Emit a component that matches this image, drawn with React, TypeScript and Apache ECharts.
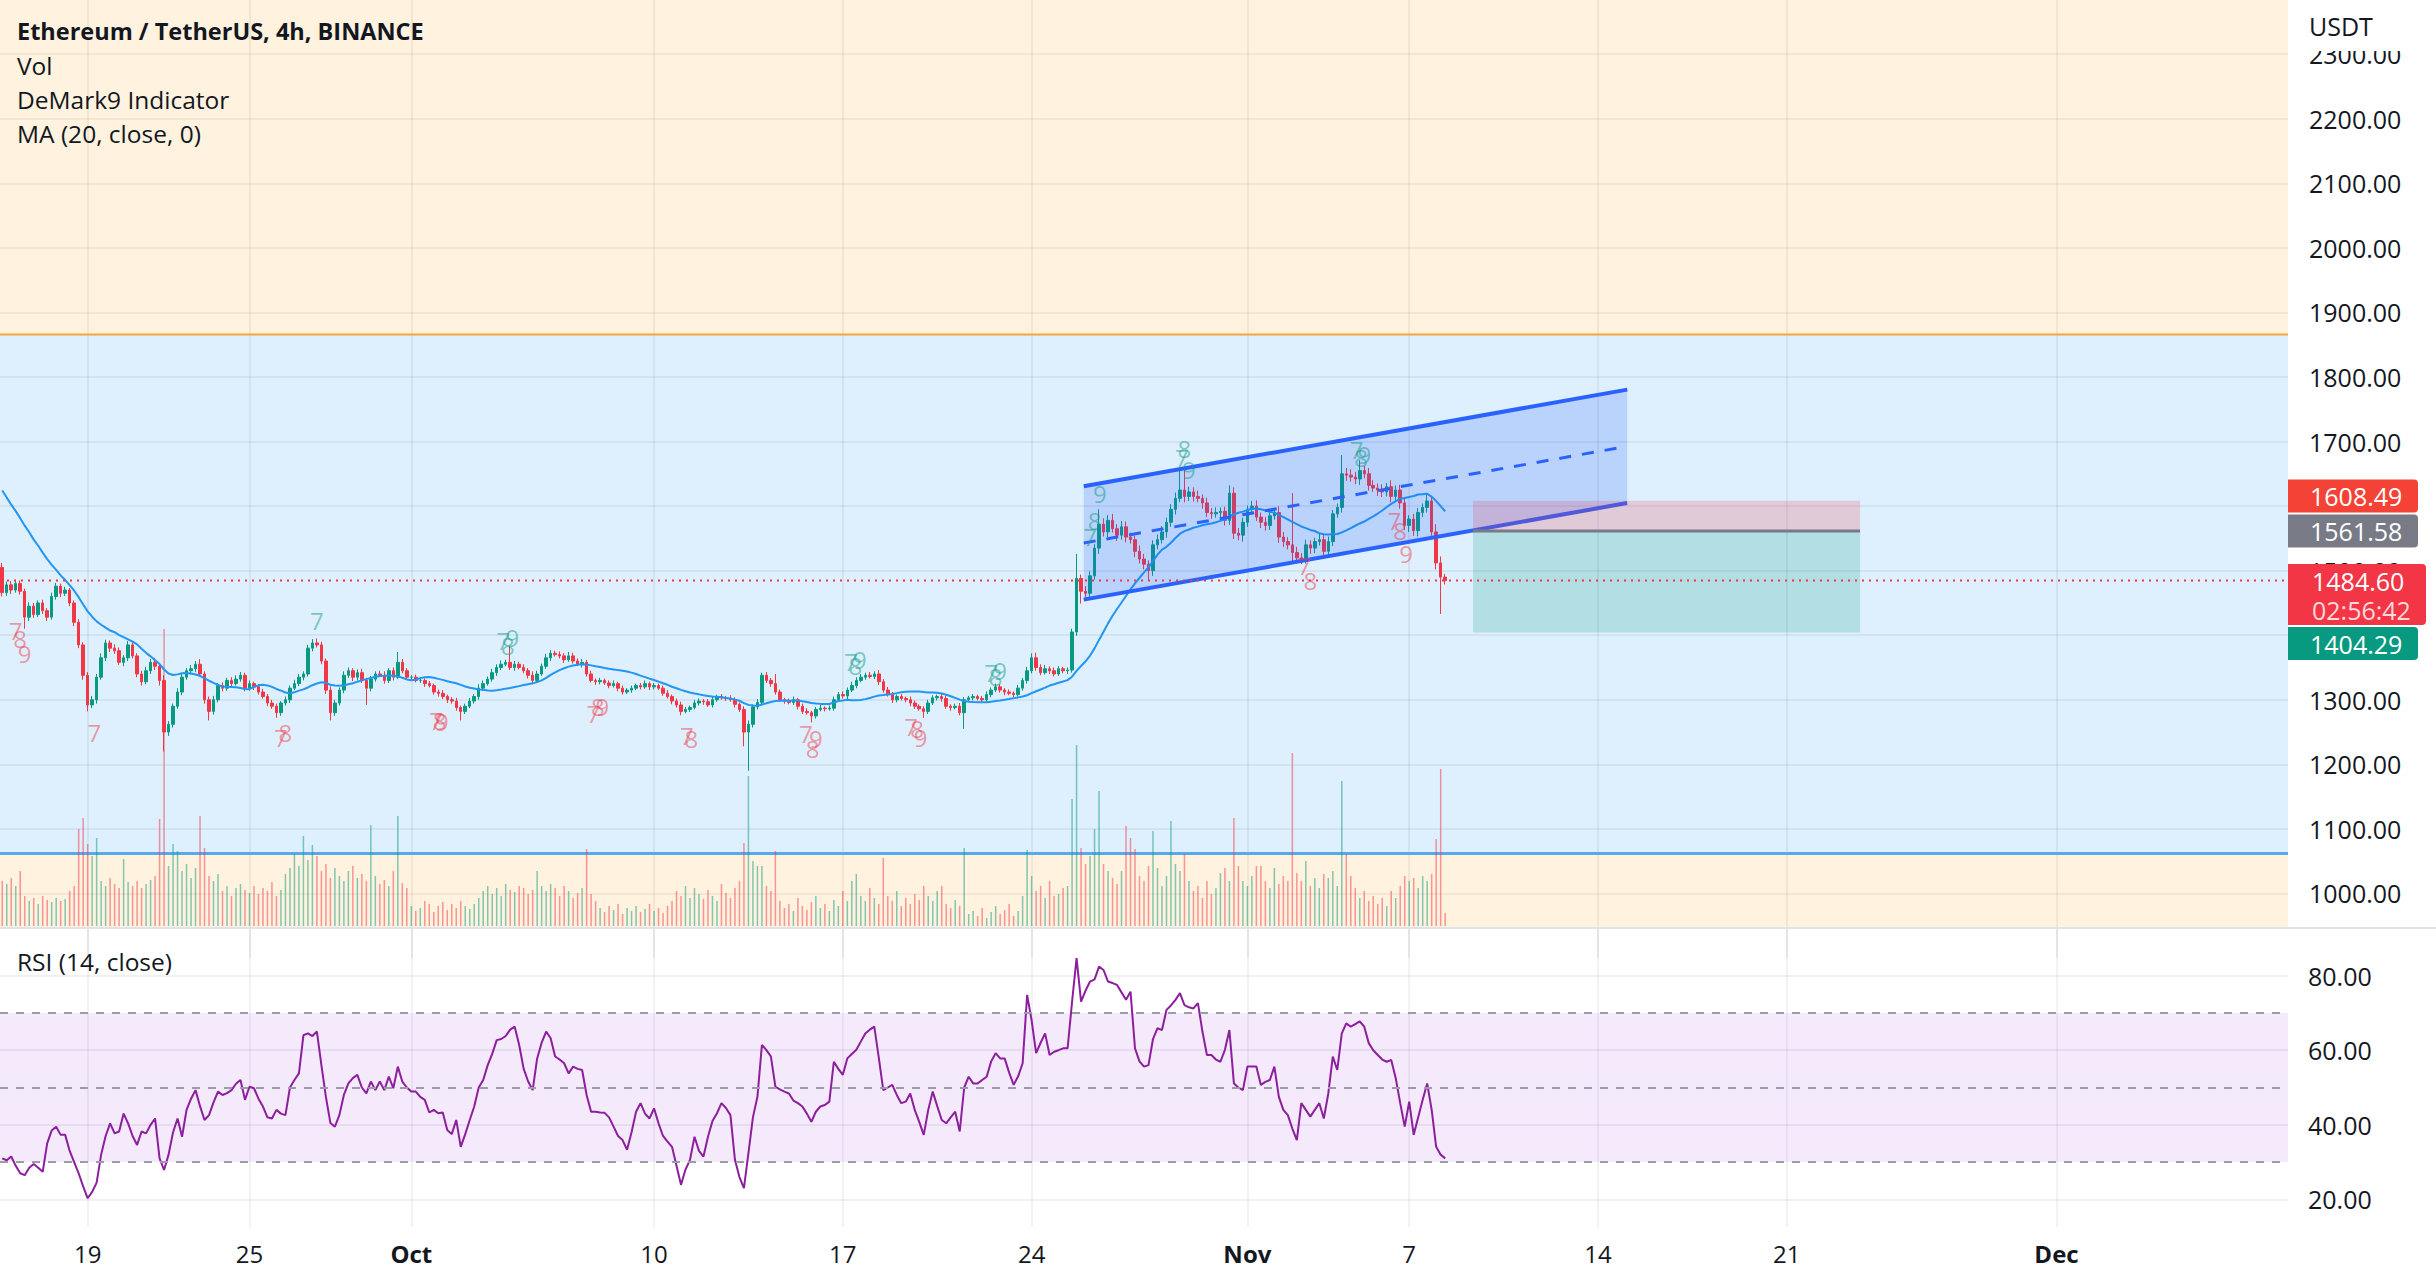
import React, { useEffect, useRef } from "react";
import * as echarts from "echarts";

// ---- Data (ETH/USDT 4h) ----
// closes before the first visible candle, used only to warm up MA(20)
const preCloses = [1700, 1690, 1680, 1685, 1660, 1650, 1660, 1640, 1650, 1630, 1640, 1630, 1635, 1615, 1605, 1595, 1585, 1565, 1505];

const closes = [
  1466, 1478, 1470, 1480, 1468, 1428, 1445, 1432, 1450, 1438,
  1428, 1460, 1476, 1465, 1470, 1450, 1420, 1385, 1338, 1292,
  1300, 1335, 1365, 1388, 1380, 1376, 1358, 1365, 1385, 1368,
  1340, 1328, 1345, 1358, 1352, 1330, 1250, 1262, 1290, 1312,
  1335, 1345, 1348, 1355, 1340, 1300, 1282, 1300, 1322, 1318,
  1330, 1325, 1332, 1338, 1318, 1325, 1320, 1312, 1305, 1295,
  1290, 1280, 1295, 1300, 1318, 1325, 1335, 1340, 1380, 1388,
  1385, 1360, 1315, 1280, 1295, 1315, 1338, 1345, 1335, 1342,
  1330, 1318, 1332, 1340, 1338, 1330, 1345, 1335, 1358, 1345,
  1335, 1335, 1330, 1330, 1325, 1322, 1312, 1310, 1305, 1300,
  1298, 1288, 1282, 1290, 1298, 1305, 1318, 1325, 1332, 1342,
  1350, 1355, 1358, 1350, 1355, 1350, 1345, 1338, 1330, 1340,
  1352, 1365, 1372, 1370, 1368, 1362, 1368, 1360, 1355, 1358,
  1340, 1330, 1328, 1330, 1326, 1322, 1325, 1318, 1312, 1315,
  1318, 1322, 1320, 1325, 1320, 1322, 1318, 1310, 1305, 1298,
  1292, 1282, 1285, 1288, 1295, 1298, 1297, 1292, 1300, 1305,
  1303, 1302, 1300, 1293, 1285, 1250, 1262, 1289, 1296, 1338,
  1330, 1325, 1312, 1300, 1298, 1296, 1300, 1290, 1282, 1280,
  1275, 1285, 1287, 1286, 1287, 1300, 1308, 1306, 1315, 1322,
  1330, 1335, 1338, 1336, 1340, 1328, 1315, 1308, 1300, 1305,
  1302, 1300, 1295, 1290, 1286, 1282, 1295, 1303, 1305, 1302,
  1290, 1288, 1290, 1280, 1300, 1303, 1305, 1302, 1300, 1308,
  1315, 1320, 1315, 1312, 1310, 1308, 1318, 1330, 1345, 1365,
  1350, 1342, 1348, 1345, 1340, 1348, 1345, 1346, 1405, 1488,
  1468, 1465, 1492, 1535, 1572, 1560, 1578, 1565, 1555, 1568,
  1552, 1548, 1530, 1518, 1510, 1500, 1540, 1548, 1560, 1575,
  1595, 1612, 1625, 1615, 1622, 1615, 1612, 1605, 1590, 1588,
  1590, 1592, 1578, 1620, 1558, 1555, 1575, 1595, 1600, 1583,
  1575, 1570, 1585, 1590, 1552, 1545, 1540, 1528, 1520, 1518,
  1540, 1535, 1545, 1548, 1530, 1545, 1588, 1598, 1650, 1648,
  1645, 1642, 1655, 1650, 1632, 1628, 1625, 1622, 1630, 1615,
  1625, 1605, 1570, 1580, 1562, 1590, 1598, 1608, 1560, 1512,
  1490, 1484.6,
];

const wickUp = [
  7, 5, 6, 4, 5, 4, 6, 5, 4, 5, 4, 6, 5, 4, 5, 3, 4, 5, 4, 5,
  6, 5, 7, 5, 4, 6, 5, 4, 6, 5, 4, 5, 6, 5, 7, 4, 8, 5, 4, 6,
  5, 4, 6, 5, 8, 4, 5, 6, 4, 5, 4, 5, 6, 5, 4, 5, 3, 4, 5, 4,
  5, 4, 3, 5, 4, 6, 5, 4, 5, 6, 7, 5, 4, 6, 5, 4, 6, 5, 4, 5,
  6, 4, 5, 4, 5, 6, 4, 5, 16, 5, 4, 3, 4, 5, 3, 4, 3, 4, 5, 3,
  4, 5, 3, 4, 5, 4, 6, 5, 4, 6, 5, 6, 4, 24, 5, 4, 5, 4, 6, 5,
  4, 6, 5, 4, 5, 4, 6, 5, 4, 5, 4, 5, 3, 4, 3, 4, 5, 3, 4, 3,
  4, 3, 4, 5, 3, 4, 3, 4, 5, 3, 4, 5, 4, 3, 5, 4, 3, 4, 5, 3,
  4, 3, 5, 4, 3, 5, 6, 4, 5, 4, 5, 4, 15, 4, 3, 4, 5, 3, 4, 5,
  3, 4, 5, 3, 4, 5, 4, 5, 4, 6, 5, 5, 4, 5, 4, 6, 4, 5, 4, 3,
  4, 3, 5, 4, 3, 4, 5, 4, 3, 5, 4, 3, 4, 5, 4, 3, 4, 3, 4, 5,
  4, 5, 4, 3, 4, 3, 5, 4, 6, 7, 8, 5, 6, 4, 5, 4, 3, 4, 5, 38,
  6, 8, 7, 6, 23, 9, 8, 10, 7, 9, 8, 7, 6, 9, 8, 6, 7, 8, 9, 7,
  8, 9, 31, 36, 8, 7, 9, 6, 8, 7, 8, 6, 7, 12, 9, 8, 7, 6, 8, 9,
  7, 8, 9, 6, 10, 8, 7, 80, 9, 7, 8, 7, 6, 9, 7, 8, 6, 6, 29, 9,
  9, 8, 16, 7, 9, 8, 7, 9, 6, 10, 7, 8, 9, 6, 8, 7, 6, 9, 8, 12,
  10, 5,
];

const wickDown = [
  6, 5, 6, 4, 5, 18, 6, 5, 4, 5, 6, 4, 5, 6, 4, 5, 6, 5, 7, 10,
  5, 6, 4, 5, 6, 5, 4, 6, 5, 4, 5, 6, 4, 5, 6, 8, 30, 6, 5, 4,
  5, 4, 6, 5, 4, 6, 14, 5, 4, 5, 4, 5, 3, 4, 5, 4, 5, 4, 3, 5,
  4, 8, 5, 4, 5, 3, 4, 5, 4, 5, 4, 5, 6, 12, 5, 4, 5, 4, 6, 5,
  4, 26, 5, 4, 3, 5, 4, 5, 3, 4, 3, 4, 3, 4, 5, 3, 4, 5, 4, 5,
  4, 5, 14, 4, 3, 4, 5, 4, 3, 4, 5, 4, 3, 4, 5, 3, 4, 5, 6, 4,
  3, 4, 5, 3, 4, 5, 3, 4, 3, 5, 4, 3, 5, 4, 3, 4, 3, 5, 4, 3,
  4, 3, 4, 3, 5, 4, 3, 4, 3, 5, 4, 6, 3, 4, 3, 4, 5, 3, 4, 3,
  3, 4, 3, 5, 4, 22, 60, 5, 4, 5, 4, 5, 4, 3, 4, 3, 4, 5, 4, 3,
  10, 4, 3, 4, 3, 4, 3, 4, 5, 3, 4, 3, 4, 3, 4, 5, 4, 3, 5, 4,
  3, 4, 5, 4, 3, 10, 4, 3, 4, 5, 4, 5, 3, 4, 25, 3, 4, 3, 4, 3,
  4, 3, 4, 5, 3, 4, 3, 4, 5, 4, 5, 4, 3, 5, 4, 3, 4, 5, 4, 6,
  19, 7, 8, 6, 9, 7, 8, 6, 9, 7, 8, 6, 9, 7, 8, 15, 8, 7, 6, 9,
  7, 8, 6, 9, 7, 8, 6, 9, 7, 8, 6, 9, 8, 7, 9, 8, 10, 7, 8, 6,
  9, 8, 7, 6, 9, 8, 7, 17, 9, 8, 7, 9, 8, 6, 9, 8, 7, 6, 8, 9,
  7, 8, 9, 7, 8, 6, 9, 8, 7, 9, 8, 9, 7, 10, 8, 9, 7, 8, 6, 10,
  57, 6,
];

const volumes = [
  45, 42, 48, 40, 55, 30, 25, 28, 22, 30, 26, 24, 28, 25, 27, 35, 40, 97, 108, 82,
  70, 88, 45, 40, 48, 42, 38, 67, 44, 40, 45, 38, 42, 46, 50, 107, 297, 60, 82, 75,
  55, 62, 48, 58, 110, 78, 50, 45, 52, 35, 40, 30, 38, 42, 36, 33, 40, 32, 38, 35,
  44, 30, 36, 52, 58, 72, 60, 90, 66, 81, 70, 55, 62, 48, 58, 50, 45, 55, 60, 48,
  52, 45, 101, 50, 42, 46, 40, 55, 110, 43, 38, 20, 15, 18, 25, 22, 14, 20, 24, 16,
  22, 18, 25, 20, 17, 22, 28, 35, 40, 32, 38, 30, 42, 36, 34, 40, 38, 32, 36, 55,
  40, 35, 42, 38, 30, 40, 35, 28, 33, 38, 77, 32, 25, 18, 14, 20, 16, 22, 12, 18,
  15, 20, 14, 17, 22, 15, 18, 13, 20, 25, 35, 30, 40, 28, 38, 32, 27, 36, 30, 25,
  42, 33, 28, 38, 45, 83, 150, 65, 60, 60, 40, 35, 75, 25, 18, 22, 15, 28, 20, 16,
  24, 30, 18, 22, 15, 26, 20, 35, 25, 45, 52, 30, 25, 38, 28, 22, 68, 30, 25, 35,
  20, 28, 22, 32, 26, 40, 30, 25, 35, 40, 22, 18, 26, 20, 78, 12, 15, 10, 18, 8,
  14, 20, 12, 16, 22, 10, 15, 30, 76, 50, 35, 40, 28, 45, 30, 32, 38, 40, 127, 181,
  78, 62, 70, 97, 135, 62, 55, 48, 42, 55, 100, 88, 77, 50, 45, 60, 95, 58, 40, 50,
  105, 62, 55, 72, 45, 35, 40, 28, 45, 32, 38, 53, 58, 45, 108, 60, 45, 40, 50, 60,
  60, 45, 38, 58, 42, 50, 45, 173, 53, 45, 65, 40, 48, 38, 52, 48, 55, 40, 145, 72,
  50, 38, 28, 35, 25, 30, 22, 28, 20, 35, 28, 40, 50, 45, 48, 38, 50, 45, 52, 87,
  157, 13,
];

const rsiValues = [
  31, 30.5, 31.5, 29, 27, 26.5, 28.5, 29.5, 28.5, 27.4,
  35, 38.5, 39.5, 37.3, 37.3, 33, 30, 27, 23.5, 20.3,
  22, 24.5, 32, 37, 40.4, 37.7, 38.2, 43, 40.4, 37,
  34.6, 38.2, 37.7, 40, 41.7, 31, 27.9, 32, 38, 41.7,
  36.8, 44, 47, 49.3, 45, 41.3, 42.6, 46, 48.9, 48,
  48.5, 49.3, 51, 52, 46.7, 50.2, 49.8, 47, 44.9, 42,
  41.7, 44, 43, 42.6, 50, 52, 53.8, 64, 64.5, 63.8,
  65, 56, 47.5, 40.5, 39.5, 42.6, 48, 51.1, 52.5, 53.4,
  50, 48.4, 51.6, 49.3, 51.6, 49.3, 52.9, 49.8, 55.6, 51.6,
  50, 48.9, 48.9, 47.5, 46.7, 43.3, 44, 43.1, 43.3, 38.6,
  37.5, 41.3, 34.1, 37.5, 41.3, 44.9, 50, 52, 56, 59,
  62.7, 63, 63.8, 65.5, 66.3, 61.4, 55, 51.6, 49.3, 57.8,
  62, 65, 63.2, 58.3, 57.5, 56.5, 53.8, 55.6, 55, 54.7,
  48, 43.5, 43.5, 43.3, 43.2, 42, 39.5, 37, 35.9, 33.3,
  38, 43.5, 45.8, 43, 41.7, 44.4, 40.4, 37, 35.5, 34.1,
  29, 23.9, 28, 30.6, 36.8, 33, 31.5, 36.8, 41, 43.1,
  45.8, 44.5, 42.6, 30.6, 26, 23, 32.4, 42, 47.5, 61.4,
  60, 58.3, 50.2, 49.5, 48.9, 48.4, 46.5, 45.8, 44.9, 43,
  40.8, 43.5, 44.9, 45.3, 46.2, 56.9, 55, 53.4, 57.8, 59,
  60.1, 62.3, 64.5, 65.5, 66.3, 58, 49.3, 50, 50.7, 48,
  45.8, 46.2, 48.4, 44, 40.8, 37.3, 44, 48.9, 45, 41.3,
  40.4, 42, 43.5, 38.2, 50, 52.9, 51.1, 51.1, 52, 52.9,
  57, 59.2, 57.8, 57.8, 54, 50.7, 53, 56.5, 74.8, 68,
  59.2, 62, 64.5, 58.7, 59.6, 60, 60.5, 60.5, 73, 84.7,
  73, 76, 78.4, 79, 82.4, 81.5, 78.4, 78, 77.5, 75.5,
  73.5, 75.7, 60.5, 57, 55.6, 56, 63, 65.9, 65.4, 70.8,
  72, 73.5, 75.3, 72.1, 71.5, 71.2, 72.6, 65, 58.7, 58.7,
  57.5, 56.9, 60.1, 65.4, 51.1, 50, 49.3, 55.6, 55.6, 55.6,
  50.7, 51.5, 52, 55.6, 47.5, 44, 42.6, 39, 35.9, 45.8,
  44, 42.2, 44, 45.8, 41.7, 48.4, 58.3, 54.7, 64.5, 67.2,
  66.3, 67, 67.7, 66.3, 61.9, 60, 58.7, 57.5, 56.9, 57.4,
  52.5, 45.8, 39.5, 46.2, 37.3, 42, 46.7, 51.1, 44, 34.1,
  32, 31,
];

// time axis: one slot per 4h candle, slot 0 = Sep 15 20:00
const slotCount = 509;
const xTickIndex = [19, 55, 91, 145, 187, 229, 277, 313, 355, 397, 457];
const xTickLabels = ["19", "25", "Oct", "10", "17", "24", "Nov", "7", "14", "21", "Dec"];
const monthLabels = ["Oct", "Nov", "Dec"];

// price scale
const priceMin = 900;
const priceMax = 2384;
const paneBottomPrice = 946;
// axis labels fully hidden behind the price tags in the picture
const hiddenPriceLabels = [1400, 1600];

// drawings
const zoneUpperLevel = 1866;
const zoneLowerLevel = 1062;
const channelUpper = [[240.6, 1630.7], [361.5, 1780.4]];
const channelLower = [[240.6, 1455.1], [361.5, 1604.8]];
const positionStart = 327.2;
const positionEnd = 413.3;
const stopPrice = 1608.49;
const entryPrice = 1561.58;
const targetPrice = 1404.29;
const lastPrice = 1484.6;
const countdownText = "02:56:42";

// DeMark 9 counts: [slot, price, text]
const demarkUp = [
  [70, 1423, "7"],
  [111.5, 1392, "7"], [112.5, 1384, "8"], [113.5, 1396, "9"],
  [188.8, 1360, "7"], [189.8, 1353, "8"], [190.8, 1362, "9"],
  [220, 1343, "7"], [221, 1336, "8"], [222, 1345, "9"],
  [242, 1553, "7"], [243, 1578, "8"], [244.2, 1619, "9"],
  [262.4, 1676, "7"], [263, 1690, "8"], [264, 1656, "9"],
  [301.3, 1688, "7"], [302.3, 1676, "8"], [303, 1680, "9"],
];
const demarkDown = [
  [3, 1408, "7"], [4, 1395, "8"], [5, 1371, "9"],
  [20.5, 1250, "7"],
  [62, 1242, "7"], [63, 1250, "8"],
  [96.5, 1268, "7"], [97.3, 1268, "8"], [97.8, 1266, "9"],
  [131.5, 1278, "7"], [132.5, 1290, "8"], [133.5, 1290, "9"],
  [152.3, 1245, "7"], [153.3, 1240, "8"],
  [178.8, 1247, "7"], [180.3, 1224, "8"], [181, 1240, "9"],
  [202.2, 1258, "7"], [203.5, 1255, "8"], [204.3, 1242, "9"],
  [289.7, 1508, "7"], [291, 1485, "8"],
  [309.7, 1578, "7"], [311, 1562, "8"], [312.3, 1526, "9"],
];

// ---- Styles ----
const FONT = "Open Sans";
const TEXT = "#131722";
const UP = "#089981";
const DOWN = "#f23645";
const GRID_LINE = "rgba(42,46,57,0.07)";
const AXIS_FONT = 25;

export default function App() {
  const ref = useRef<HTMLDivElement>(null);

  useEffect(() => {
    const el = ref.current as HTMLDivElement;
    const chart = echarts.init(el, null, { renderer: "svg" });

    const allCloses = preCloses.concat(closes);
    const off = preCloses.length;
    const opens = closes.map((_, i) => allCloses[i + off - 1]);
    const candles = closes.map((c, i) => {
      const o = opens[i];
      return [o, c, Math.min(o, c) - wickDown[i], Math.max(o, c) + wickUp[i]];
    });
    const ma = closes.map((_, i) => {
      let s = 0;
      for (let k = i + off - 19; k <= i + off; k++) s += allCloses[k];
      return +(s / 20).toFixed(2);
    });
    const volData = volumes.map((v, i) => ({
      value: v,
      itemStyle: { color: closes[i] >= opens[i] ? "rgba(8,153,129,0.5)" : "rgba(242,54,69,0.5)" },
    }));
    const categories = Array.from({ length: slotCount }, (_, i) => String(i));
    const tickSet = new Set(xTickIndex);
    const isTick = (i: number) => tickSet.has(i);
    const labelOf = (i: number) => {
      const k = xTickIndex.indexOf(i);
      if (k < 0) return "";
      const t = xTickLabels[k];
      return monthLabels.indexOf(t) >= 0 ? "{b|" + t + "}" : "{n|" + t + "}";
    };

    const priceGridColors: string[] = [];
    for (let v = priceMin; v <= priceMax; v += 100) priceGridColors.push(v < 1000 ? "rgba(0,0,0,0)" : GRID_LINE);
    priceGridColors.push("rgba(0,0,0,0)");
    const rsiGridColors = ["rgba(0,0,0,0)", GRID_LINE, GRID_LINE, GRID_LINE, GRID_LINE, "rgba(0,0,0,0)"];

    const renderZones = (params: any, api: any) => {
      const cs = params.coordSys;
      const yUp = api.coord([0, zoneUpperLevel])[1];
      const yLow = api.coord([0, zoneLowerLevel])[1];
      const yBot = api.coord([0, paneBottomPrice])[1];
      return {
        type: "group",
        children: [
          { type: "rect", shape: { x: cs.x, y: cs.y, width: cs.width, height: yUp - cs.y }, style: { fill: "rgba(255,152,0,0.13)" } },
          { type: "rect", shape: { x: cs.x, y: yUp, width: cs.width, height: yLow - yUp }, style: { fill: "rgba(33,150,243,0.15)" } },
          { type: "rect", shape: { x: cs.x, y: yLow, width: cs.width, height: yBot - yLow }, style: { fill: "rgba(255,152,0,0.13)" } },
          { type: "line", shape: { x1: cs.x, y1: yUp, x2: cs.x + cs.width, y2: yUp }, style: { stroke: "#f6a53c", lineWidth: 2 } },
          { type: "line", shape: { x1: cs.x, y1: yLow, x2: cs.x + cs.width, y2: yLow }, style: { stroke: "#58a8ee", lineWidth: 3 } },
        ],
      };
    };

    const renderChannel = (_params: any, api: any) => {
      const u0 = api.coord(channelUpper[0]);
      const u1 = api.coord(channelUpper[1]);
      const l0 = api.coord(channelLower[0]);
      const l1 = api.coord(channelLower[1]);
      const m0 = [(u0[0] + l0[0]) / 2, (u0[1] + l0[1]) / 2];
      const m1 = [(u1[0] + l1[0]) / 2, (u1[1] + l1[1]) / 2];
      return {
        type: "group",
        children: [
          { type: "polygon", shape: { points: [u0, u1, l1, l0] }, style: { fill: "rgba(41,98,255,0.2)" } },
          { type: "line", shape: { x1: u0[0], y1: u0[1], x2: u1[0], y2: u1[1] }, style: { stroke: "#2962ff", lineWidth: 4 } },
          { type: "line", shape: { x1: l0[0], y1: l0[1], x2: l1[0], y2: l1[1] }, style: { stroke: "#2962ff", lineWidth: 4 } },
          { type: "line", shape: { x1: m0[0], y1: m0[1], x2: m1[0], y2: m1[1] }, style: { stroke: "#2962ff", lineWidth: 3, lineDash: [12, 11] } },
        ],
      };
    };

    const renderPosition = (params: any, api: any) => {
      const cs = params.coordSys;
      const [xL, yS] = api.coord([positionStart, stopPrice]);
      const [xR, yE] = api.coord([positionEnd, entryPrice]);
      const yT = api.coord([positionEnd, targetPrice])[1];
      const yLast = api.coord([0, lastPrice])[1];
      return {
        type: "group",
        children: [
          { type: "rect", shape: { x: xL, y: yS, width: xR - xL, height: yE - yS }, style: { fill: "rgba(242,54,69,0.2)" } },
          { type: "rect", shape: { x: xL, y: yE, width: xR - xL, height: yT - yE }, style: { fill: "rgba(8,153,129,0.2)" } },
          { type: "line", shape: { x1: xL, y1: yE, x2: xR, y2: yE }, style: { stroke: "#787b86", lineWidth: 3 } },
          { type: "line", shape: { x1: cs.x, y1: yLast, x2: cs.x + cs.width, y2: yLast }, style: { stroke: "#f23645", lineWidth: 2, lineDash: [2, 5] } },
        ],
      };
    };

    const demarkSeries = (list: any[], color: string) => ({
      type: "scatter",
      xAxisIndex: 2,
      yAxisIndex: 0,
      symbolSize: 1,
      itemStyle: { color: "rgba(0,0,0,0)" },
      z: 7,
      silent: true,
      data: list.map((d) => ({ value: [d[0], d[1]], name: d[2] })),
      label: {
        show: true,
        position: "inside",
        formatter: (p: any) => p.name,
        fontSize: 24,
        fontFamily: FONT,
        color,
      },
    });

    const option: any = {
      animation: false,
      textStyle: { fontFamily: FONT },
      grid: [
        { left: 0, right: 148, top: 0, height: 958 },
        { left: 0, right: 148, top: 526, height: 400 },
        { left: 0, right: 148, top: 901, height: 373 },
        { left: 0, right: 148, top: 928, height: 299 },
      ],
      xAxis: [
        {
          type: "category", gridIndex: 0, data: categories, boundaryGap: true,
          axisLine: { show: false }, axisTick: { show: false }, axisLabel: { show: false },
          splitLine: { show: true, alignWithLabel: true, interval: (i: number) => isTick(i), lineStyle: { color: GRID_LINE, width: 2 } },
        },
        { type: "category", gridIndex: 1, data: categories, show: false },
        { type: "value", gridIndex: 0, min: -0.5, max: slotCount - 0.5, show: false },
        { type: "category", gridIndex: 2, data: categories, show: false },
        {
          type: "category", gridIndex: 3, data: categories, boundaryGap: true,
          axisLine: { show: false }, axisTick: { show: false },
          axisLabel: {
            interval: (i: number) => isTick(i),
            formatter: (_v: string, i: number) => labelOf(i),
            margin: 14,
            rich: {
              n: { fontSize: AXIS_FONT - 1, color: TEXT, fontFamily: FONT },
              b: { fontSize: AXIS_FONT - 1, color: TEXT, fontFamily: FONT, fontWeight: "bold" },
            },
          },
          splitLine: { show: true, alignWithLabel: true, interval: (i: number) => isTick(i), lineStyle: { color: "rgba(42,46,57,0.06)", width: 2 } },
        },
      ],
      yAxis: [
        {
          type: "value", gridIndex: 0, position: "right", min: priceMin, max: priceMax, interval: 100,
          axisLine: { show: false }, axisTick: { show: false },
          axisLabel: {
            formatter: (v: number) =>
              v % 100 === 0 && v >= 1000 && hiddenPriceLabels.indexOf(v) < 0 ? v.toFixed(2) : "",
            fontSize: AXIS_FONT, color: TEXT, margin: 21, align: "left", fontFamily: FONT,
          },
          splitLine: { show: true, lineStyle: { color: priceGridColors, width: 2 } },
        },
        { type: "value", gridIndex: 1, min: 0, max: 400, show: false },
        {
          type: "value", gridIndex: 2, position: "right", min: 0, max: 100, interval: 20,
          axisLine: { show: false }, axisTick: { show: false },
          axisLabel: {
            formatter: (v: number) => (v > 0 && v < 100 ? v.toFixed(2) : ""),
            fontSize: AXIS_FONT, color: TEXT, margin: 20, align: "left", fontFamily: FONT,
          },
          splitLine: { show: true, lineStyle: { color: rsiGridColors, width: 2 } },
        },
        { type: "value", gridIndex: 3, min: 0, max: 1, show: false },
      ],
      series: [
        { type: "custom", xAxisIndex: 2, yAxisIndex: 0, z: 1, silent: true, data: [[0, zoneLowerLevel]], renderItem: renderZones },
        { type: "bar", xAxisIndex: 1, yAxisIndex: 1, data: volData, barWidth: 1.5, z: 2, silent: true },
        {
          type: "candlestick", xAxisIndex: 0, yAxisIndex: 0, data: candles, barWidth: 3, z: 3, silent: true,
          itemStyle: { color: UP, color0: DOWN, borderColor: UP, borderColor0: DOWN, borderWidth: 1 },
        },
        {
          type: "line", xAxisIndex: 0, yAxisIndex: 0, data: ma, symbol: "none", showSymbol: false, z: 4, silent: true,
          lineStyle: { color: "#2196f3", width: 2 },
        },
        { type: "custom", xAxisIndex: 2, yAxisIndex: 0, z: 5, silent: true, data: [[channelUpper[0][0], channelUpper[0][1]]], renderItem: renderChannel },
        { type: "custom", xAxisIndex: 2, yAxisIndex: 0, z: 6, silent: true, data: [[positionStart, entryPrice]], renderItem: renderPosition },
        demarkSeries(demarkUp, "rgba(8,153,129,0.62)"),
        demarkSeries(demarkDown, "rgba(242,54,69,0.62)"),
        {
          type: "line", xAxisIndex: 3, yAxisIndex: 2, data: rsiValues, symbol: "none", showSymbol: false, silent: true, z: 3,
          lineStyle: { color: "#8c1f9c", width: 2 },
          markArea: { silent: true, itemStyle: { color: "rgba(156,39,222,0.1)" }, data: [[{ yAxis: 30 }, { yAxis: 70 }]] },
          markLine: {
            silent: true, symbol: ["none", "none"], label: { show: false },
            lineStyle: { type: [8, 8], color: "#9a9ca6", width: 2 },
            data: [{ yAxis: 70 }, { yAxis: 50 }, { yAxis: 30 }],
          },
        },
        { type: "line", xAxisIndex: 4, yAxisIndex: 3, data: [] },
      ],
    };

    chart.setOption(option);

    // price tags on the right axis, placed from the price scale
    const py = (p: number) => chart.convertToPixel({ yAxisIndex: 0 }, p) as number;
    const tagH = 33;
    const axisX = 2288;
    const yEntry = py(entryPrice);
    const yStop = Math.min(py(stopPrice), yEntry - tagH - 2);
    const yLast = py(lastPrice);
    const lastTop = yLast - 16.5;
    const lastBottom = lastTop + 61;
    const targetTop = Math.max(py(targetPrice) - 16.5, lastBottom + 2);

    const txt = (x: number, y: number, text: string, opts: any = {}) => ({
      type: "text", x, y, z: 101,
      style: {
        text, fill: opts.fill || TEXT, fontSize: opts.fontSize || AXIS_FONT, fontFamily: FONT,
        fontWeight: opts.fontWeight || "normal", align: opts.align || "left", verticalAlign: "middle",
      },
    });
    const tagRect = (top: number, h: number, w: number, fill: string) => ({
      type: "rect", z: 100, shape: { x: axisX, y: top, width: w, height: h, r: [0, 4, 4, 0] }, style: { fill },
    });

    chart.setOption({
      graphic: [
        txt(17, 31, "Ethereum / TetherUS, 4h, BINANCE", { fontWeight: "bold", fontSize: 23.5 }),
        txt(17, 65, "Vol", { fontSize: 24.5 }),
        txt(17, 99, "DeMark9 Indicator", { fontSize: 24.5 }),
        txt(17, 133, "MA (20, close, 0)", { fontSize: 24.5 }),
        txt(17, 961, "RSI (14, close)", { fontSize: 24.5 }),
        { type: "rect", z: 100, shape: { x: axisX, y: 0, width: 148, height: 51 }, style: { fill: "#ffffff" } },
        txt(2309, 26, "USDT"),
        { type: "line", z: 100, shape: { x1: 0, y1: 928, x2: 2436, y2: 928 }, style: { stroke: "#e0e3eb", lineWidth: 2 } },
        tagRect(yStop - tagH / 2, tagH, 130, "#f44336"),
        txt(2310, yStop, stopPrice.toFixed(2), { fill: "#ffffff" }),
        tagRect(yEntry - tagH / 2, tagH, 130, "#787b86"),
        txt(2310, yEntry, entryPrice.toFixed(2), { fill: "#ffffff" }),
        tagRect(lastTop, 61, 138, "#f23645"),
        txt(2312, yLast, lastPrice.toFixed(2), { fill: "#ffffff" }),
        txt(2312, yLast + 29, countdownText, { fill: "rgba(255,255,255,0.82)" }),
        tagRect(targetTop, tagH, 130, "#089981"),
        txt(2310, targetTop + tagH / 2, targetPrice.toFixed(2), { fill: "#ffffff" }),
      ],
    });

    return () => chart.dispose();
  }, []);

  return (
    <div
      ref={ref}
      style={{ position: "fixed", left: 0, top: 0, width: 2436, height: 1280, background: "#ffffff" }}
    />
  );
}
